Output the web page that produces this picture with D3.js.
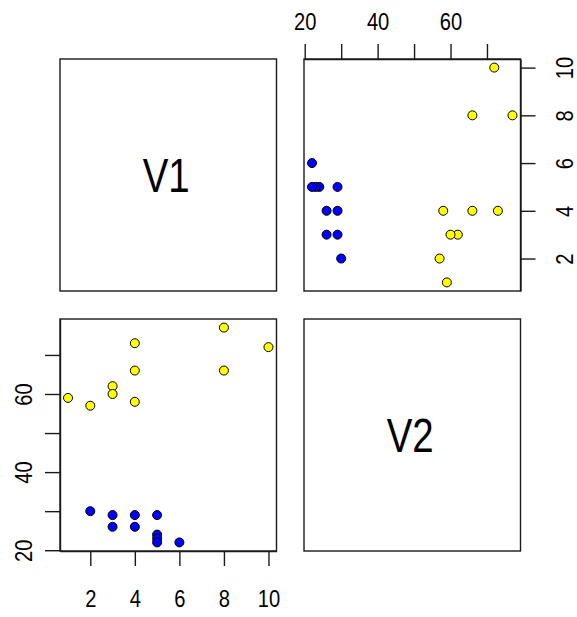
<!DOCTYPE html>
<html><head><meta charset="utf-8">
<script src="https://cdn.jsdelivr.net/npm/d3@7"></script>
<style>
html,body{margin:0;padding:0;background:#fff;}
text{font-family:"Liberation Sans",Arial,sans-serif;fill:#000;}
</style></head>
<body>
<svg id="chart" width="577" height="617"></svg>
<script>
// data
const varNames = ["V1", "V2"];
const V1 = [1, 2, 3, 3, 4, 4, 4, 8, 8, 10, 2, 3, 3, 4, 4, 5, 5, 5, 5, 6];
const V2 = [59, 57, 62, 60, 73, 66, 58, 77, 66, 72, 30, 29, 26, 29, 26, 29, 24, 23, 22, 22];
const group = ["a","a","a","a","a","a","a","a","a","a","b","b","b","b","b","b","b","b","b","b"];
const groupColors = {a: "#FFFF00", b: "#0000FF"};
const v1Ticks = [2, 4, 6, 8, 10];
const v2Ticks = [20, 30, 40, 50, 60, 70];
const v2Labels = [20, 40, 60];

const svg = d3.select("#chart");
const boxW = 216.5, boxH = 232;
const colX = [60, 304];
const rowY = [59, 319];

function ext(arr){
  const [a,b] = d3.extent(arr); const r = (b-a)*0.04; return [a-r, b+r];
}
const xV1 = d3.scaleLinear().domain(ext(V1)).range([colX[0], colX[0]+boxW]);
const xV2 = d3.scaleLinear().domain(ext(V2)).range([colX[1], colX[1]+boxW]);
const yV1 = d3.scaleLinear().domain(ext(V1)).range([rowY[0]+boxH, rowY[0]]);
const yV2 = d3.scaleLinear().domain(ext(V2)).range([rowY[1]+boxH, rowY[1]]);

const lineCol = "#1a1a1a", lineW = 1.4;
const sx = 0.84;
// boxes
for (let r=0;r<2;r++) for (let c=0;c<2;c++){
  svg.append("rect").attr("x",colX[c]).attr("y",rowY[r]).attr("width",boxW).attr("height",boxH)
    .attr("fill","none").attr("stroke",lineCol).attr("stroke-width",lineW);
}
// diagonal labels
varNames.forEach((n,i)=>{
  svg.append("text")
    .attr("transform",`translate(${colX[i]+boxW/2-2},${rowY[i]+boxH/2}) scale(0.8,1)`)
    .attr("dy","0.36em").attr("text-anchor","middle")
    .style("font-size","48px").text(n);
});

const tickLen = 15;
function styleAxis(g){
  g.select(".domain").attr("stroke",lineCol).attr("stroke-width",lineW);
  g.selectAll(".tick line").attr("stroke",lineCol).attr("stroke-width",lineW);
  g.selectAll(".tick text").style("font-size","24px").attr("fill","#000")
    .attr("x",0).attr("y",0).attr("dy","0.36em").attr("text-anchor","middle");
}
const v2fmt = d => v2Labels.includes(d) ? d : "";

// top axis (V2) on top-right panel
const gTop = svg.append("g").attr("transform",`translate(0,${rowY[0]})`)
  .call(d3.axisTop(xV2).tickValues(v2Ticks).tickFormat(v2fmt).tickSize(tickLen).tickSizeOuter(0));
styleAxis(gTop);
gTop.selectAll(".tick text").attr("transform",`translate(0,-38) scale(${sx},1)`);

// right axis (V1) on top-right panel
const gRight = svg.append("g").attr("transform",`translate(${colX[1]+boxW},0)`)
  .call(d3.axisRight(yV1).tickValues(v1Ticks).tickSize(tickLen).tickSizeOuter(0));
styleAxis(gRight);
gRight.selectAll(".tick text").attr("transform",`translate(43.5,0) rotate(-90) scale(${sx},1)`);

// left axis (V2) on bottom-left panel
const gLeft = svg.append("g").attr("transform",`translate(${colX[0]},0)`)
  .call(d3.axisLeft(yV2).tickValues(v2Ticks).tickFormat(v2fmt).tickSize(tickLen).tickSizeOuter(0));
styleAxis(gLeft);
gLeft.selectAll(".tick text").attr("transform",`translate(-36.5,0) rotate(-90) scale(${sx},1)`);

// bottom axis (V1) on bottom-left panel
const gBottom = svg.append("g").attr("transform",`translate(0,${rowY[1]+boxH})`)
  .call(d3.axisBottom(xV1).tickValues(v1Ticks).tickSize(tickLen).tickSizeOuter(0));
styleAxis(gBottom);
gBottom.selectAll(".tick text").attr("transform",`translate(0,47.5) scale(${sx},1)`);

const idx = d3.range(V1.length);
// top-right: x=V2, y=V1
svg.append("g").selectAll("circle").data(idx).join("circle")
  .attr("cx",i=>xV2(V2[i])).attr("cy",i=>yV1(V1[i])).attr("r",4.5)
  .attr("fill",i=>groupColors[group[i]]).attr("stroke","#000").attr("stroke-width",1);
// bottom-left: x=V1, y=V2
svg.append("g").selectAll("circle").data(idx).join("circle")
  .attr("cx",i=>xV1(V1[i])).attr("cy",i=>yV2(V2[i])).attr("r",4.5)
  .attr("fill",i=>groupColors[group[i]]).attr("stroke","#000").attr("stroke-width",1);
</script>
</body></html>
